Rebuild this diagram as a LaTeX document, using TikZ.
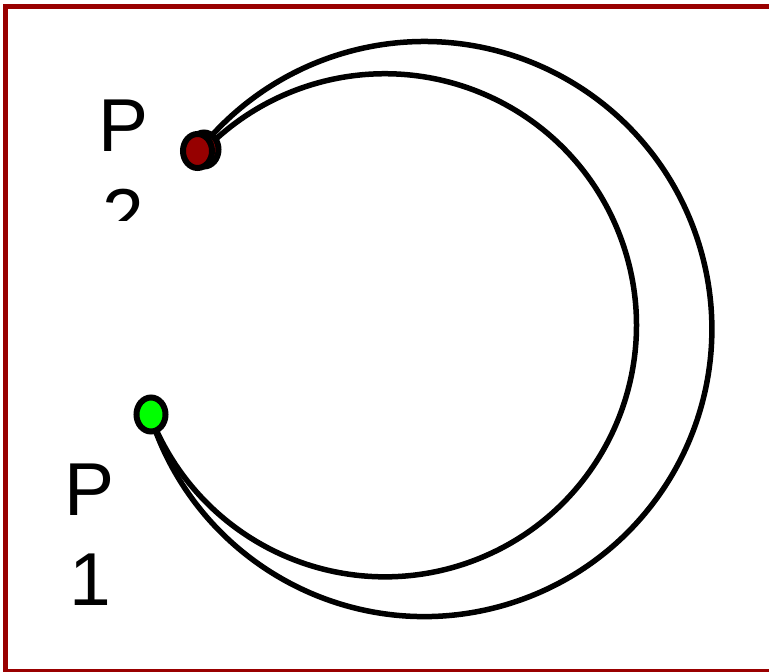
\documentclass[tikz,border=0pt]{standalone}
\usepackage{fontspec}
\setmainfont{Liberation Sans}
\definecolor{framered}{RGB}{153,0,0}
\definecolor{dotred}{RGB}{150,0,0}
\definecolor{dotgreen}{RGB}{0,255,0}
\tikzset{
  arcline/.style={draw=black, line width=5.5pt},
  dotshape/.style={ellipse, draw=black, line width=6pt, minimum width=29pt, minimum height=34pt, inner sep=0pt},
  lbl/.style={inner sep=0pt, anchor=base, font=\fontsize{75}{90}\selectfont},
}
\usetikzlibrary{shapes.geometric}
\begin{document}
\begin{tikzpicture}[x=1pt,y=-1pt]
\useasboundingbox (0,0) rectangle (769,672);
% frame
\draw[framered, line width=4.5pt] (5.5,6.5) rectangle (790,671.5);
% dot positions
\coordinate (gc) at (150,415);
% arcs
\draw[arcline] (gc) arc[start angle=162.6, end angle=-141.65, radius=287.5] coordinate (oe);
\draw[arcline] (gc) arc[start angle=159.1, end angle=-136.83, radius=251.5] coordinate (ie);
% dots
\node[dotshape, fill=dotred] (r2) at (204,149.5) {};
\node[dotshape, fill=dotred] (r) at (197.5,151) {};
\node[dotshape, fill=dotgreen] (g) at (151,414.5) {};
% labels
\begin{scope}
\clip (0,0) rectangle (769,220);
\node[lbl] (p2) at (123.5,151.7) {\begin{tabular}[t]{@{}c@{}}P\\2\end{tabular}};
\end{scope}
\node[lbl] (p1) at (90,515) {\begin{tabular}[t]{@{}c@{}}P\\1\end{tabular}};
\end{tikzpicture}
\end{document}
